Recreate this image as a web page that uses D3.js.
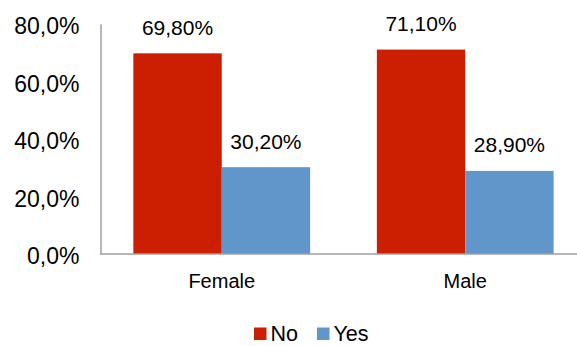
<!DOCTYPE html>
<html>
<head>
<meta charset="utf-8">
<script src="https://cdn.jsdelivr.net/npm/d3@7"></script>
<style>
  html, body { margin: 0; padding: 0; background: #fff; }
  svg { display: block; font-family: "Liberation Sans", Arial, sans-serif; }
</style>
</head>
<body>
<svg id="chart" width="577" height="346"></svg>
<script>
// Share of answers by gender
const categories = ["Female", "Male"];
const seriesNames = ["No", "Yes"];
const noValues = [69.8, 71.1];
const yesValues = [30.2, 28.9];
const yTicks = [0, 20, 40, 60, 80];
const colors = ["#CC1E00", "#6196CB"];

const svg = d3.select("#chart");
const fmtTick = v => v.toFixed(1).replace(".", ",") + "%";
const fmtVal = v => v.toFixed(2).replace(".", ",") + "%";
const FONT = "'Liberation Sans', Arial, sans-serif";

const x0 = d3.scaleBand().domain(categories).range([100, 587])
  .paddingInner(0.274).paddingOuter(0.137);
const x1 = d3.scaleBand().domain(seriesNames).range([0, x0.bandwidth()]);
const y = d3.scaleLinear().domain([0, 80]).range([254, 24]);

const rows = categories.map((c, i) => ({
  cat: c,
  vals: [{ s: "No", v: noValues[i] }, { s: "Yes", v: yesValues[i] }]
}));

// Bars
const groups = svg.append("g").selectAll("g").data(rows).join("g")
  .attr("transform", d => `translate(${x0(d.cat)},0)`);

groups.selectAll("rect").data(d => d.vals).join("rect")
  .attr("x", d => x1(d.s))
  .attr("y", d => y(d.v))
  .attr("width", x1.bandwidth())
  .attr("height", d => y(0) - y(d.v))
  .attr("fill", (d, i) => colors[i]);

// Value labels
groups.selectAll("text").data(d => d.vals).join("text")
  .attr("x", d => x1(d.s) + x1.bandwidth() / 2)
  .attr("y", d => y(d.v) - 18.5)
  .attr("text-anchor", "middle")
  .attr("font-size", 21)
  .attr("fill", "#000")
  .text(d => fmtVal(d.v));

// Y axis
const yAxis = svg.append("g").attr("transform", "translate(100.5,0)")
  .call(d3.axisLeft(y).tickValues(yTicks).tickFormat(fmtTick).tickSize(0).tickPadding(21));
yAxis.select(".domain").attr("stroke", "#A0A0A0").attr("stroke-width", 1.5);
yAxis.selectAll("text").attr("font-size", 23).attr("fill", "#000")
  .attr("font-family", FONT).attr("dy", null).attr("y", 9.6);

// X axis
const xAxis = svg.append("g").attr("transform", "translate(0,254)")
  .call(d3.axisBottom(x0).tickSize(0));
xAxis.select(".domain").attr("stroke", "#A0A0A0").attr("stroke-width", 1.5)
  .attr("d", "M100,0H577");
xAxis.selectAll("text").attr("font-size", 20).attr("fill", "#000")
  .attr("font-family", FONT).attr("dy", null).attr("y", 34);

// Legend
const legendX = [254, 317];
const legend = svg.append("g").selectAll("g").data(seriesNames).join("g")
  .attr("transform", (d, i) => `translate(${legendX[i]},327.5)`);
legend.append("rect").attr("width", 12.5).attr("height", 12.5)
  .attr("fill", (d, i) => colors[i]);
legend.append("text").attr("x", 16.5).attr("y", 13.8)
  .attr("font-size", 21.5).attr("fill", "#000").text(d => d);
</script>
</body>
</html>
